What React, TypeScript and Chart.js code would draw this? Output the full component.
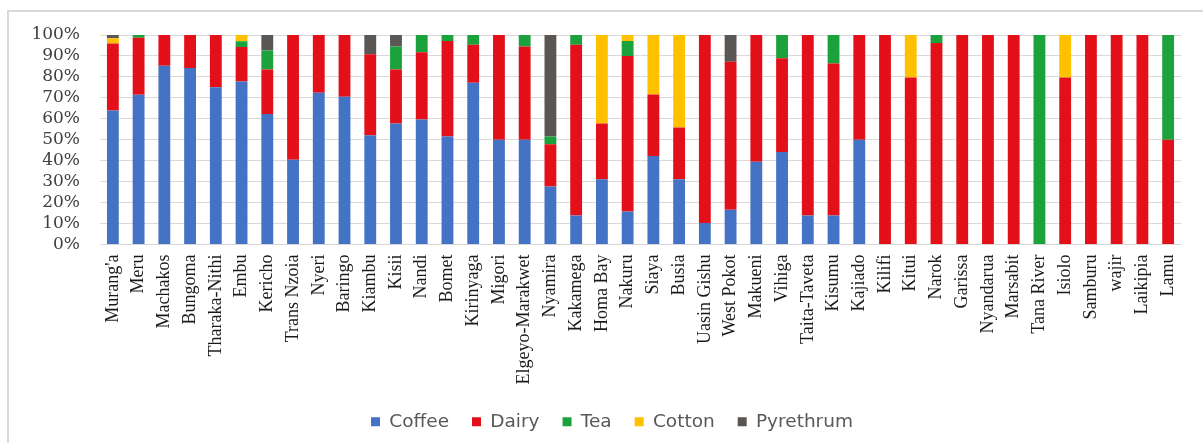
import React, { useEffect, useRef } from "react";
import { Chart, registerables } from "chart.js";

Chart.register(...registerables);

const counties = [
  "Murang'a", "Meru", "Machakos", "Bungoma", "Tharaka-Nithi", "Embu", "Kericho", "Trans Nzoia",
  "Nyeri", "Baringo", "Kiambu", "Kisii", "Nandi", "Bomet", "Kirinyaga", "Migori",
  "Elgeyo-Marakwet", "Nyamira", "Kakamega", "Homa Bay", "Nakuru", "Siaya", "Busia", "Uasin Gishu",
  "West Pokot", "Makueni", "Vihiga", "Taita-Taveta", "Kisumu", "Kajiado", "Kilifi", "Kitui",
  "Narok", "Garissa", "Nyandarua", "Marsabit", "Tana River", "Isiolo", "Samburu", "wajir",
  "Laikipia", "Lamu",
];

const coffee = [
  64, 71.5, 85.3, 84.3, 75.1, 77.8, 62.3, 40.4, 72.4, 70.5, 52.1, 57.7, 59.7, 51.5, 77.2, 50,
  50, 27.7, 13.9, 31.2, 15.8, 42.3, 31.2, 10.3, 16.6, 39.5, 44.1, 13.9, 13.9, 50, 0, 0,
  0, 0, 0, 0, 0, 0, 0, 0, 0, 0,
];
const dairy = [
  32, 27.2, 14.7, 15.7, 24.9, 16.5, 21.2, 59.6, 27.6, 29.5, 38.7, 25.8, 32.1, 45.6, 18.2, 50,
  44.5, 20.2, 81.5, 26.6, 74.2, 29.3, 24.7, 89.7, 70.6, 60.5, 44.8, 86.1, 72.5, 50, 100, 79.7,
  96.2, 100, 100, 100, 0, 79.7, 100, 100, 100, 50,
];
const tea = [
  0, 1.3, 0, 0, 0, 2.7, 9.1, 0, 0, 0, 0, 11, 8.2, 2.9, 4.6, 0,
  5.5, 3.6, 4.6, 0, 7.1, 0, 0, 0, 0, 0, 11.1, 0, 13.6, 0, 0, 0,
  3.8, 0, 0, 0, 100, 0, 0, 0, 0, 50,
];
const cotton = [
  2.5, 0, 0, 0, 0, 3, 0, 0, 0, 0, 0, 0, 0, 0, 0, 0,
  0, 0, 0, 42.2, 2.9, 28.4, 44.1, 0, 0, 0, 0, 0, 0, 0, 0, 20.3,
  0, 0, 0, 0, 0, 20.3, 0, 0, 0, 0,
];
const pyrethrum = [
  1.5, 0, 0, 0, 0, 0, 7.4, 0, 0, 0, 9.2, 5.5, 0, 0, 0, 0,
  0, 48.5, 0, 0, 0, 0, 0, 0, 12.8, 0, 0, 0, 0, 0, 0, 0,
  0, 0, 0, 0, 0, 0, 0, 0, 0, 0,
];

const seriesNames = ["Coffee", "Dairy", "Tea", "Cotton", "Pyrethrum"];
const seriesColors = ["#4472C4", "#E3101A", "#1BA23D", "#FFC000", "#5A5653"];

const legendShift = {
  id: "legendShift",
  afterLayout(chart: any) {
    const lg = chart.legend;
    if (lg) {
      lg.left += 17;
      lg.right += 17;
    }
  },
};

export default function App() {
  const ref = useRef<HTMLCanvasElement | null>(null);

  useEffect(() => {
    if (!ref.current) return;
    const values = [coffee, dairy, tea, cotton, pyrethrum];
    const chart = new Chart(ref.current, {
      type: "bar",
      data: {
        labels: counties,
        datasets: values.map((v, i) => ({
          label: seriesNames[i],
          data: v,
          backgroundColor: seriesColors[i],
          borderWidth: 0,
          barPercentage: 0.46,
          categoryPercentage: 1,
        })),
      },
      plugins: [legendShift],
      options: {
        responsive: false,
        animation: false,
        devicePixelRatio: 1,
        layout: { padding: { top: 23, right: 22, bottom: 2, left: 0 } },
        plugins: {
          tooltip: { enabled: false },
          legend: {
            position: "bottom",
            labels: {
              boxWidth: 9,
              boxHeight: 9,
              padding: 23,
              color: "#595959",
              font: { family: "'DejaVu Sans'", size: 18.5 },
            },
          },
        },
        scales: {
          x: {
            stacked: true,
            grid: { display: false, drawTicks: false },
            border: { display: true, color: "#d9d9d9", width: 1 },
            ticks: {
              autoSkip: false,
              minRotation: 90,
              maxRotation: 90,
              padding: 10,
              color: "#1a1a1a",
              font: { family: "'Liberation Serif'", size: 18 },
            },
            afterFit: (s: any) => {
              s.height = 145;
            },
          },
          y: {
            stacked: true,
            min: 0,
            max: 100,
            grid: {
              color: "#d9d9d9",
              lineWidth: 1,
              drawTicks: true,
              tickLength: 17,
              tickColor: "rgba(0,0,0,0)",
            },
            border: { display: false },
            ticks: {
              stepSize: 10,
              autoSkip: false,
              padding: 3,
              color: "#404040",
              font: { family: "'DejaVu Serif'", size: 17 },
              callback: (v: any) => v + "%",
            },
            afterFit: (s: any) => {
              s.width = 91;
            },
          },
        },
      },
    });
    return () => chart.destroy();
  }, []);

  return (
    <div
      style={{
        position: "absolute",
        left: 7,
        top: 10,
        width: 1194,
        height: 431,
        borderTop: "2px solid #d9d9d9",
        borderLeft: "2px solid #d9d9d9",
        overflow: "hidden",
        background: "#fff",
      }}
    >
      <canvas ref={ref} width={1194} height={431} style={{ display: "block" }} />
    </div>
  );
}
